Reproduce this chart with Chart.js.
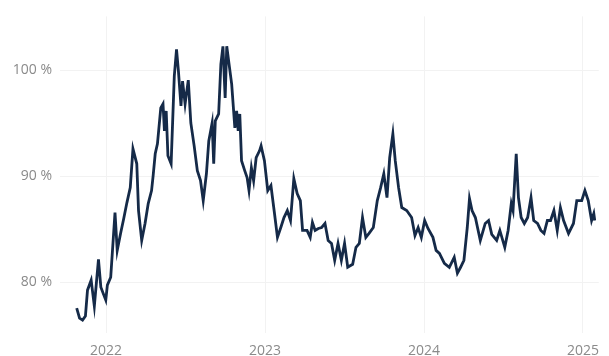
<!DOCTYPE html>
<html>
<head>
<meta charset="utf-8">
<script src="https://cdn.jsdelivr.net/npm/chart.js@4.4.1/dist/chart.umd.min.js"></script>
<style>
    body { margin: 0; background: #fff; }
    #divGrafico { width: 609px; height: 356px; }
</style>
</head>
<body>
<div id="divGrafico"><canvas id="grafico_"></canvas></div>
<script>

// fecha en años decimales
const fechas = [
    2021.815, 2021.833, 2021.852, 2021.870, 2021.883, 2021.906, 2021.926, 2021.952, 2021.967, 2021.998,
    2022.008, 2022.029, 2022.056, 2022.070, 2022.091, 2022.111, 2022.131, 2022.152, 2022.169, 2022.193,
    2022.204, 2022.224, 2022.245, 2022.265, 2022.286, 2022.296, 2022.309, 2022.323, 2022.344, 2022.358,
    2022.367, 2022.378, 2022.389, 2022.409, 2022.429, 2022.443, 2022.455, 2022.471, 2022.481, 2022.497,
    2022.517, 2022.533, 2022.554, 2022.574, 2022.594, 2022.611, 2022.631, 2022.646, 2022.667, 2022.677,
    2022.687, 2022.708, 2022.722, 2022.735, 2022.749, 2022.759, 2022.776, 2022.790, 2022.810, 2022.821,
    2022.831, 2022.841, 2022.852, 2022.872, 2022.887, 2022.899, 2022.914, 2022.928, 2022.944, 2022.965,
    2022.975, 2022.996, 2023.017, 2023.037, 2023.057, 2023.078, 2023.099, 2023.119, 2023.140, 2023.160,
    2023.181, 2023.202, 2023.222, 2023.236, 2023.264, 2023.284, 2023.298, 2023.315, 2023.335, 2023.356,
    2023.377, 2023.397, 2023.418, 2023.438, 2023.459, 2023.480, 2023.500, 2023.520, 2023.551, 2023.572,
    2023.593, 2023.613, 2023.634, 2023.654, 2023.681, 2023.706, 2023.727, 2023.747, 2023.767, 2023.784,
    2023.804, 2023.819, 2023.840, 2023.860, 2023.891, 2023.922, 2023.943, 2023.963, 2023.983, 2024.004,
    2024.025, 2024.056, 2024.076, 2024.097, 2024.128, 2024.159, 2024.190, 2024.210, 2024.230, 2024.251,
    2024.272, 2024.286, 2024.302, 2024.323, 2024.354, 2024.385, 2024.406, 2024.426, 2024.457, 2024.477,
    2024.508, 2024.529, 2024.549, 2024.560, 2024.580, 2024.594, 2024.611, 2024.631, 2024.652, 2024.673,
    2024.690, 2024.714, 2024.735, 2024.755, 2024.776, 2024.796, 2024.817, 2024.838, 2024.858, 2024.878,
    2024.909, 2024.940, 2024.961, 2024.992, 2025.012, 2025.033, 2025.054, 2025.068, 2025.074
];

// porcentaje
const valores = [
    77.56, 76.62, 76.43, 76.81, 79.25, 80.19, 77.75, 82.16, 79.53, 78.31,
    79.72, 80.47, 86.57, 83.00, 84.60, 86.01, 87.51, 88.92, 92.58, 91.17,
    86.76, 83.94, 85.54, 87.42, 88.64, 90.05, 92.11, 93.05, 96.43, 96.81,
    94.27, 96.15, 91.92, 91.17, 99.44, 101.97, 99.91, 96.62, 98.97, 96.81,
    99.06, 95.02, 92.86, 90.52, 89.58, 87.70, 90.23, 93.33, 95.02, 91.17,
    95.21, 95.87, 100.56, 102.25, 97.37, 102.25, 100.28, 98.69, 94.55, 96.15,
    94.27, 95.87, 91.46, 90.52, 89.86, 88.64, 90.80, 89.58, 91.74, 92.39,
    92.86, 91.46, 88.64, 89.11, 86.76, 84.23, 85.16, 86.10, 86.76, 85.82,
    89.77, 88.36, 87.70, 84.88, 84.88, 84.23, 85.63, 84.88, 85.07, 85.16,
    85.54, 83.94, 83.66, 82.07, 83.66, 82.07, 83.66, 81.41, 81.69, 83.29,
    83.66, 86.10, 84.23, 84.60, 85.16, 87.70, 88.92, 90.23, 87.98, 91.74,
    93.99, 91.46, 88.92, 87.04, 86.76, 86.10, 84.41, 85.16, 84.23, 85.82,
    85.07, 84.23, 83.00, 82.72, 81.78, 81.41, 82.35, 80.85, 81.41, 82.07,
    85.16, 87.89, 86.76, 86.10, 83.94, 85.54, 85.82, 84.51, 83.94, 84.88,
    83.29, 84.88, 87.42, 86.76, 92.11, 87.98, 86.10, 85.54, 86.10, 87.98,
    85.82, 85.54, 84.88, 84.60, 85.82, 85.82, 86.76, 84.88, 87.04, 85.82,
    84.60, 85.54, 87.70, 87.70, 88.64, 87.70, 85.82, 86.48, 85.82
];

const anios = [2022, 2023, 2024, 2025];
const porcentajes = [80, 90, 100];

function grafico(){

    const ctx = document.getElementById('grafico_');

    let puntos = [];
    fechas.forEach(function( val , key ){
        puntos.push({ x: val, y: valores[key] });
    });

    const colorTexto = '#8a8a8a';
    const colorGrilla = '#f2f2f2';

    const options = {
        responsive: true,
        maintainAspectRatio: false,
        animation: false,
        layout: {
            padding: { top: 15, right: 0, bottom: 0, left: 0 }
        },
        scales: {
            x: {
                type: 'linear',
                min: 2021.71,
                max: 2025.099,
                border: { display: false },
                grid: { color: colorGrilla, drawTicks: false },
                afterBuildTicks: function(axis){
                    axis.ticks = anios.map(v => ({ value: v }));
                },
                afterFit: function(axis){ axis.height = 23; },
                ticks: {
                    padding: 10,
                    color: colorTexto,
                    maxRotation: 0,
                    font: { family: 'Open Sans', size: 14 },
                    callback: function(value){ return String(value); }
                }
            },
            y: {
                min: 75.21,
                max: 105.07,
                border: { display: false },
                grid: { color: colorGrilla, drawTicks: false },
                afterBuildTicks: function(axis){
                    axis.ticks = porcentajes.map(v => ({ value: v }));
                },
                afterFit: function(axis){ axis.width = 60; },
                ticks: {
                    padding: 8,
                    color: colorTexto,
                    font: { family: 'Open Sans', size: 14 },
                    callback: function(value){ return value + ' %'; }
                }
            }
        },
        plugins: {
            legend: { display: false },
            tooltip: { enabled: false }
        }
    };

    new Chart( ctx , {
        type: 'line',
        data: {
            datasets: [{
                data: puntos,
                borderColor: '#152a48',
                borderWidth: 2.8,
                pointRadius: 0,
                tension: 0,
                fill: false
            }]
        },
        options: options
    });
}

grafico();
</script>
</body>
</html>
